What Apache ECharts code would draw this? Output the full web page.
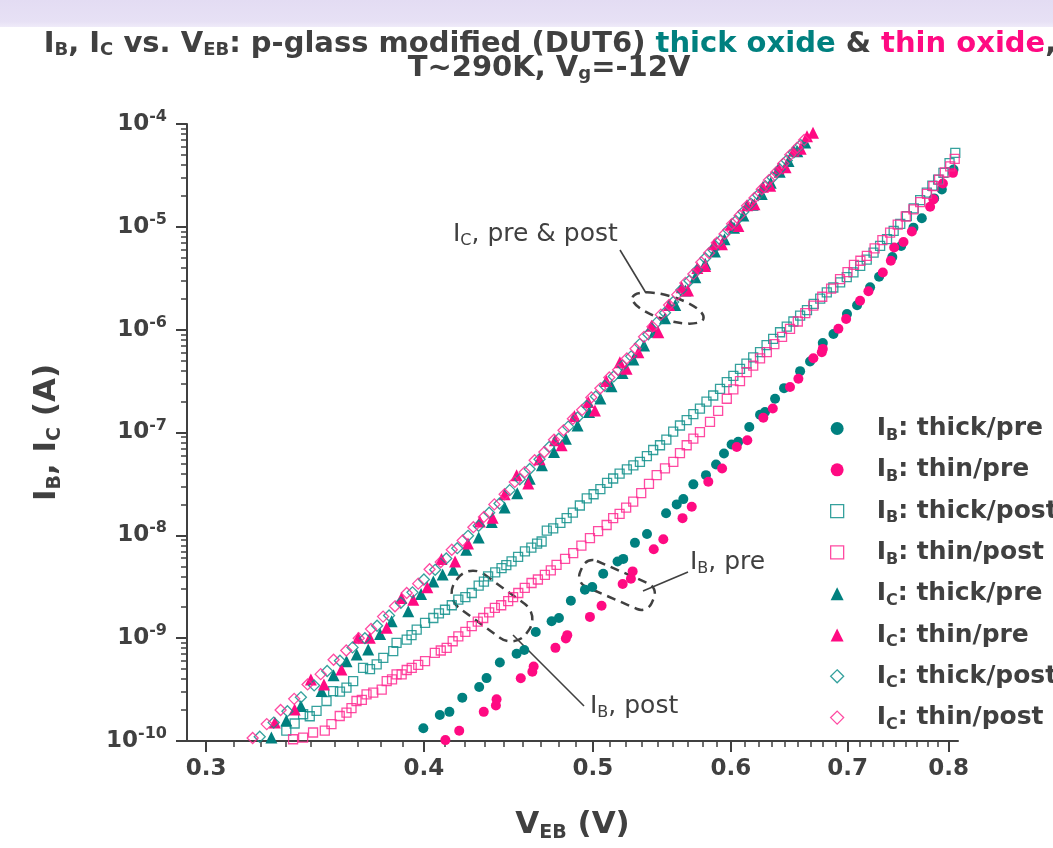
<!DOCTYPE html>
<html><head><meta charset="utf-8">
<script src="https://cdn.jsdelivr.net/npm/echarts@6/dist/echarts.min.js"></script>
<style>html,body{margin:0;padding:0;background:#fff;}#c{width:1053px;height:848px;}</style>
</head><body><div id="c"></div>
<script>
// ---- axis definitions ----
const X_TICKS = [0.3, 0.4, 0.5, 0.6, 0.7, 0.8];          // V_EB (V), log axis
const X_RANGE = [0.2925, 0.81];
const Y_TICK_EXPONENTS = [-10, -9, -8, -7, -6, -5, -4]; // I (A) = 10^e, log axis

// ---- data: [V_EB (V), current (A)] ----
const IB_THICK_PRE = [[0.3997,1.33e-10],[0.4085,1.79e-10],[0.4137,1.92e-10],[0.4208,2.64e-10],[0.4303,3.35e-10],[0.4345,4.09e-10],[0.4422,5.81e-10],[0.4521,7.05e-10],[0.4567,7.67e-10],[0.4637,1.15e-9],[0.4735,1.46e-9],[0.4781,1.57e-9],[0.4857,2.31e-9],[0.4948,2.96e-9],[0.4996,3.14e-9],[0.5069,4.23e-9],[0.5166,5.57e-9],[0.5205,5.90e-9],[0.5286,8.45e-9],[0.5371,1.03e-8],[0.5508,1.64e-8],[0.5586,2.00e-8],[0.5635,2.25e-8],[0.5710,3.13e-8],[0.5806,3.85e-8],[0.5884,4.89e-8],[0.5946,6.25e-8],[0.6006,7.64e-8],[0.6059,8.11e-8],[0.6148,1.13e-7],[0.6236,1.49e-7],[0.6277,1.58e-7],[0.6361,2.13e-7],[0.6437,2.70e-7],[0.6575,3.95e-7],[0.6662,4.90e-7],[0.6775,7.43e-7],[0.6871,9.08e-7],[0.6995,1.42e-6],[0.7089,1.73e-6],[0.7212,2.58e-6],[0.7298,3.27e-6],[0.7427,5.09e-6],[0.7514,6.52e-6],[0.7637,9.82e-6],[0.7722,1.21e-5],[0.7849,1.89e-5],[0.7929,2.31e-5],[0.8052,3.61e-5]];
const IB_THIN_PRE = [[0.4115,1.02e-10],[0.4191,1.26e-10],[0.4329,1.92e-10],[0.4399,2.21e-10],[0.4403,2.54e-10],[0.4546,4.08e-10],[0.4616,4.71e-10],[0.4624,5.30e-10],[0.4759,8.05e-10],[0.4825,9.91e-10],[0.4834,1.07e-9],[0.4981,1.61e-9],[0.5058,2.07e-9],[0.5201,3.36e-9],[0.5258,3.78e-9],[0.5270,4.46e-9],[0.5419,7.33e-9],[0.5488,9.16e-9],[0.5629,1.47e-8],[0.5698,1.90e-8],[0.5824,3.32e-8],[0.5931,4.47e-8],[0.6047,7.24e-8],[0.6132,8.40e-8],[0.6263,1.39e-7],[0.6342,1.71e-7],[0.6488,2.77e-7],[0.6560,3.33e-7],[0.6691,5.28e-7],[0.6766,6.04e-7],[0.6775,6.50e-7],[0.6916,1.02e-6],[0.6987,1.27e-6],[0.7117,1.91e-6],[0.7196,2.36e-6],[0.7334,3.60e-6],[0.7412,4.67e-6],[0.7445,6.30e-6],[0.7537,7.13e-6],[0.7621,9.00e-6],[0.7807,1.57e-5],[0.7841,1.85e-5],[0.7940,2.64e-5],[0.8046,3.35e-5]];
const IB_THICK_POST = [[0.3335,1.26e-10],[0.3372,1.48e-10],[0.3410,1.82e-10],[0.3440,1.74e-10],[0.3471,1.96e-10],[0.3517,2.45e-10],[0.3548,3.06e-10],[0.3580,3.02e-10],[0.3611,3.30e-10],[0.3643,3.83e-10],[0.3691,5.15e-10],[0.3725,5.01e-10],[0.3758,5.55e-10],[0.3791,6.44e-10],[0.3841,7.48e-10],[0.3858,8.99e-10],[0.3910,9.68e-10],[0.3935,1.07e-9],[0.3962,1.21e-9],[0.4006,1.41e-9],[0.4050,1.57e-9],[0.4080,1.74e-9],[0.4113,1.89e-9],[0.4150,2.09e-9],[0.4186,2.37e-9],[0.4225,2.51e-9],[0.4261,2.75e-9],[0.4300,3.24e-9],[0.4330,3.55e-9],[0.4354,3.99e-9],[0.4395,4.37e-9],[0.4432,4.80e-9],[0.4460,5.13e-9],[0.4491,5.57e-9],[0.4530,6.17e-9],[0.4571,6.97e-9],[0.4610,7.59e-9],[0.4645,8.32e-9],[0.4673,8.71e-9],[0.4705,1.11e-8],[0.4745,1.17e-8],[0.4790,1.32e-8],[0.4830,1.47e-8],[0.4870,1.66e-8],[0.4915,1.95e-8],[0.4960,2.29e-8],[0.5005,2.51e-8],[0.5050,2.82e-8],[0.5095,3.24e-8],[0.5136,3.57e-8],[0.5180,3.98e-8],[0.5230,4.37e-8],[0.5275,4.79e-8],[0.5321,5.19e-8],[0.5370,5.89e-8],[0.5415,6.76e-8],[0.5464,7.52e-8],[0.5510,8.51e-8],[0.5560,1.02e-7],[0.5610,1.17e-7],[0.5660,1.32e-7],[0.5710,1.51e-7],[0.5760,1.71e-7],[0.5810,2.00e-7],[0.5862,2.29e-7],[0.5915,2.66e-7],[0.5968,3.09e-7],[0.6020,3.55e-7],[0.6073,4.16e-7],[0.6125,4.68e-7],[0.6180,5.37e-7],[0.6236,6.04e-7],[0.6290,7.08e-7],[0.6345,8.13e-7],[0.6403,9.44e-7],[0.6460,1.07e-6],[0.6517,1.20e-6],[0.6575,1.37e-6],[0.6635,1.55e-6],[0.6695,1.78e-6],[0.6752,2.00e-6],[0.6811,2.31e-6],[0.6870,2.57e-6],[0.6932,2.88e-6],[0.6993,3.24e-6],[0.7055,3.60e-6],[0.7118,4.17e-6],[0.7180,4.79e-6],[0.7245,5.62e-6],[0.7308,6.52e-6],[0.7375,7.59e-6],[0.7440,9.12e-6],[0.7505,1.07e-5],[0.7571,1.27e-5],[0.7640,1.51e-5],[0.7705,1.82e-5],[0.7773,2.15e-5],[0.7830,2.51e-5],[0.7890,2.88e-5],[0.7946,3.35e-5],[0.8010,4.17e-5],[0.8071,5.24e-5]];
const IB_THIN_POST = [[0.3365,1.04e-10],[0.3410,1.08e-10],[0.3455,1.21e-10],[0.3509,1.26e-10],[0.3540,1.46e-10],[0.3579,1.75e-10],[0.3611,1.89e-10],[0.3635,2.09e-10],[0.3659,2.45e-10],[0.3685,2.51e-10],[0.3708,2.84e-10],[0.3741,2.95e-10],[0.3783,3.16e-10],[0.3808,3.83e-10],[0.3835,3.98e-10],[0.3858,4.44e-10],[0.3884,4.44e-10],[0.3910,4.90e-10],[0.3936,5.15e-10],[0.3970,5.50e-10],[0.4006,5.98e-10],[0.4058,7.21e-10],[0.4090,7.59e-10],[0.4122,8.05e-10],[0.4155,9.33e-10],[0.4186,1.04e-9],[0.4225,1.15e-9],[0.4261,1.31e-9],[0.4295,1.45e-9],[0.4326,1.57e-9],[0.4360,1.78e-9],[0.4393,1.97e-9],[0.4430,2.09e-9],[0.4471,2.29e-9],[0.4500,2.51e-9],[0.4531,2.75e-9],[0.4570,3.09e-9],[0.4611,3.44e-9],[0.4650,3.72e-9],[0.4693,4.13e-9],[0.4730,4.57e-9],[0.4766,5.16e-9],[0.4820,5.89e-9],[0.4872,6.71e-9],[0.4925,7.94e-9],[0.4981,9.38e-9],[0.5035,1.10e-8],[0.5092,1.26e-8],[0.5136,1.47e-8],[0.5180,1.62e-8],[0.5225,1.86e-8],[0.5274,2.13e-8],[0.5330,2.57e-8],[0.5385,3.16e-8],[0.5440,3.85e-8],[0.5500,4.47e-8],[0.5561,5.19e-8],[0.5610,6.31e-8],[0.5660,7.52e-8],[0.5710,8.71e-8],[0.5760,1.01e-7],[0.5837,1.27e-7],[0.5900,1.62e-7],[0.5968,2.13e-7],[0.6020,2.63e-7],[0.6073,3.16e-7],[0.6127,3.86e-7],[0.6180,4.47e-7],[0.6236,5.25e-7],[0.6292,6.04e-7],[0.6355,7.24e-7],[0.6420,8.51e-7],[0.6488,1.02e-6],[0.6555,1.20e-6],[0.6620,1.45e-6],[0.6691,1.71e-6],[0.6770,2.09e-6],[0.6850,2.51e-6],[0.6931,3.10e-6],[0.7000,3.63e-6],[0.7060,4.27e-6],[0.7120,4.68e-6],[0.7181,5.21e-6],[0.7255,6.17e-6],[0.7330,7.41e-6],[0.7405,8.79e-6],[0.7480,1.05e-5],[0.7560,1.26e-5],[0.7637,1.48e-5],[0.7705,1.74e-5],[0.7775,2.09e-5],[0.7841,2.49e-5],[0.7900,2.88e-5],[0.7960,3.39e-5],[0.8017,3.88e-5],[0.8065,4.57e-5]];
const IC_THICK_PRE = [[0.3270,1.08e-10],[0.3335,1.58e-10],[0.3400,2.19e-10],[0.3494,3.06e-10],[0.3550,4.37e-10],[0.3611,5.98e-10],[0.3660,6.92e-10],[0.3716,7.76e-10],[0.3775,1.10e-9],[0.3833,1.46e-9],[0.3918,1.83e-9],[0.3985,2.69e-9],[0.4050,3.56e-9],[0.4100,4.17e-9],[0.4158,4.62e-9],[0.4230,7.24e-9],[0.4300,9.55e-9],[0.4375,1.35e-8],[0.4450,1.86e-8],[0.4525,2.57e-8],[0.4600,3.55e-8],[0.4675,4.79e-8],[0.4750,6.46e-8],[0.4825,8.71e-8],[0.4900,1.17e-7],[0.4975,1.58e-7],[0.5050,2.14e-7],[0.5125,2.82e-7],[0.5200,3.80e-7],[0.5275,5.13e-7],[0.5350,7.00e-7],[0.5425,9.55e-7],[0.5500,1.29e-6],[0.5575,1.74e-6],[0.5650,2.40e-6],[0.5725,3.24e-6],[0.5800,4.37e-6],[0.5875,5.75e-6],[0.5950,7.59e-6],[0.6025,9.77e-6],[0.6100,1.29e-5],[0.6175,1.64e-5],[0.6250,2.09e-5],[0.6325,2.69e-5],[0.6400,3.43e-5],[0.6475,4.37e-5],[0.6550,5.43e-5],[0.6620,6.61e-5]];
const IC_THIN_PRE = [[0.3285,1.51e-10],[0.3372,2.03e-10],[0.3445,3.97e-10],[0.3505,3.55e-10],[0.3587,4.97e-10],[0.3667,1.01e-9],[0.3724,1.01e-9],[0.3808,1.26e-9],[0.3883,2.46e-9],[0.3944,2.37e-9],[0.4018,3.12e-9],[0.4094,5.90e-9],[0.4168,5.57e-9],[0.4240,8.32e-9],[0.4307,1.36e-8],[0.4380,1.48e-8],[0.4450,2.51e-8],[0.4521,3.85e-8],[0.4591,3.20e-8],[0.4660,5.50e-8],[0.4756,8.41e-8],[0.4798,7.52e-8],[0.4880,1.45e-7],[0.4970,1.98e-7],[0.5014,1.64e-7],[0.5090,3.16e-7],[0.5182,4.83e-7],[0.5228,4.16e-7],[0.5310,6.03e-7],[0.5403,1.09e-6],[0.5452,9.44e-7],[0.5530,1.74e-6],[0.5623,2.58e-6],[0.5670,2.40e-6],[0.5740,3.98e-6],[0.5800,4.17e-6],[0.5870,6.76e-6],[0.5930,6.76e-6],[0.6000,1.05e-5],[0.6060,1.02e-5],[0.6130,1.62e-5],[0.6190,1.66e-5],[0.6260,2.45e-5],[0.6320,2.51e-5],[0.6390,3.72e-5],[0.6450,3.80e-5],[0.6520,5.50e-5],[0.6580,5.75e-5],[0.6635,7.59e-5],[0.6688,8.24e-5]];
const IC_THICK_POST = [[0.322,1.10e-10],[0.328,1.51e-10],[0.334,1.95e-10],[0.340,2.66e-10],[0.346,3.47e-10],[0.352,4.79e-10],[0.358,6.03e-10],[0.364,8.13e-10],[0.370,1.00e-9],[0.376,1.32e-9],[0.382,1.66e-9],[0.388,2.21e-9],[0.394,2.79e-9],[0.400,3.72e-9],[0.406,4.62e-9],[0.412,5.96e-9],[0.418,7.50e-9],[0.424,9.89e-9],[0.430,1.24e-8],[0.436,1.66e-8],[0.442,2.04e-8],[0.448,2.75e-8],[0.454,3.51e-8],[0.460,4.42e-8],[0.466,5.50e-8],[0.472,7.24e-8],[0.478,8.71e-8],[0.484,1.14e-7],[0.490,1.40e-7],[0.496,1.82e-7],[0.502,2.24e-7],[0.508,2.85e-7],[0.514,3.51e-7],[0.520,4.47e-7],[0.526,5.50e-7],[0.532,7.24e-7],[0.538,9.02e-7],[0.544,1.17e-6],[0.550,1.46e-6],[0.556,1.86e-6],[0.562,2.43e-6],[0.568,2.99e-6],[0.574,3.80e-6],[0.580,4.95e-6],[0.586,6.03e-6],[0.592,7.41e-6],[0.598,9.33e-6],[0.604,1.14e-5],[0.610,1.40e-5],[0.616,1.68e-5],[0.622,2.04e-5],[0.628,2.48e-5],[0.634,3.02e-5],[0.640,3.63e-5],[0.646,4.42e-5],[0.652,5.31e-5],[0.658,6.24e-5]];
const IC_THIN_POST = [[0.319,1.07e-10],[0.325,1.46e-10],[0.331,2.00e-10],[0.337,2.57e-10],[0.343,3.55e-10],[0.349,4.47e-10],[0.355,6.17e-10],[0.361,7.59e-10],[0.367,1.00e-9],[0.373,1.23e-9],[0.379,1.62e-9],[0.385,2.04e-9],[0.391,2.75e-9],[0.397,3.39e-9],[0.403,4.68e-9],[0.409,5.50e-9],[0.415,7.24e-9],[0.421,8.91e-9],[0.427,1.20e-8],[0.433,1.51e-8],[0.439,2.00e-8],[0.445,2.51e-8],[0.451,3.31e-8],[0.457,4.12e-8],[0.463,5.37e-8],[0.469,6.46e-8],[0.475,8.51e-8],[0.481,1.05e-7],[0.487,1.36e-7],[0.493,1.66e-7],[0.499,2.19e-7],[0.505,2.69e-7],[0.511,3.43e-7],[0.517,4.07e-7],[0.523,5.25e-7],[0.529,6.53e-7],[0.535,8.51e-7],[0.541,1.07e-6],[0.547,1.40e-6],[0.553,1.74e-6],[0.559,2.19e-6],[0.565,2.85e-6],[0.571,3.47e-6],[0.577,4.52e-6],[0.583,5.56e-6],[0.589,7.00e-6],[0.595,8.51e-6],[0.601,1.07e-5],[0.607,1.29e-5],[0.613,1.60e-5],[0.619,1.91e-5],[0.625,2.32e-5],[0.631,2.85e-5],[0.637,3.39e-5],[0.643,4.12e-5],[0.649,5.01e-5],[0.655,5.89e-5],[0.661,7.00e-5]];

// ---- styling ----
const TEAL = '#00807f', PINK = '#ff0a82', INK = '#404040', FONT = 'DejaVu Sans';
const lg = v => Math.log10(v);
const toXY = arr => arr.map(p => [lg(p[0]), lg(p[1])]);

const xMajor = X_TICKS.map(lg);
const xMinor = [];
X_TICKS.forEach(t => { for (let k = 1; k < 9; k++) { const v = t + k * 0.1 / 9; if (v < X_RANGE[1]) xMinor.push(lg(v)); } });
const yMinor = [];
Y_TICK_EXPONENTS.slice(0, -1).forEach(e => { for (let k = 2; k <= 9; k++) yMinor.push(e + lg(k)); });

const SERIES_DEF = [
  {name: 'IB: thick/pre',  data: IB_THICK_PRE,  symbol: 'circle',   size: 10, color: TEAL, hollow: false, sub: 'B', label: 'thick/pre'},
  {name: 'IB: thin/pre',   data: IB_THIN_PRE,   symbol: 'circle',   size: 10, color: PINK, hollow: false, sub: 'B', label: 'thin/pre'},
  {name: 'IB: thick/post', data: IB_THICK_POST, symbol: 'rect',     size: 9,  color: '#12908c', hollow: true, sub: 'B', label: 'thick/post'},
  {name: 'IB: thin/post',  data: IB_THIN_POST,  symbol: 'rect',     size: 9,  color: '#ff2a92', hollow: true, sub: 'B', label: 'thin/post'},
  {name: 'IC: thick/pre',  data: IC_THICK_PRE,  symbol: 'triangle', size: 12, color: TEAL, hollow: false, sub: 'C', label: 'thick/pre'},
  {name: 'IC: thin/pre',   data: IC_THIN_PRE,   symbol: 'triangle', size: 12, color: PINK, hollow: false, sub: 'C', label: 'thin/pre'},
  {name: 'IC: thick/post', data: IC_THICK_POST, symbol: 'diamond',  size: 11, color: '#12908c', hollow: true, sub: 'C', label: 'thick/post'},
  {name: 'IC: thin/post',  data: IC_THIN_POST,  symbol: 'diamond',  size: 11, color: '#ff2a92', hollow: true, sub: 'C', label: 'thin/post'}
];
const styleOf = d => d.hollow
  ? {color: 'rgba(255,255,255,0)', borderColor: d.color, borderWidth: 1.3, opacity: 0.85}
  : {color: d.color, borderWidth: 0, opacity: 1};

const series = SERIES_DEF.map((d, i) => ({
  name: d.name, type: 'scatter', data: toXY(d.data), symbol: d.symbol, symbolSize: d.size,
  itemStyle: styleOf(d), z: 2 + i, silent: true, emphasis: {disabled: true}, clip: true
}));

const legendRich = {};
SERIES_DEF.forEach(d => { legendRich[d.name] = `{a|I}{s|${d.sub}}{m|: ${d.label}}`; });

const axisLineStyle = {color: INK, width: 2};
// component text styles (ECharts uses "color")
const bold = (size, extra) => Object.assign({fontFamily: FONT, fontWeight: 'bold', fontSize: size, color: INK}, extra || {});
// graphic text styles (zrender uses "fill")
const gb = (size, extra) => Object.assign({fontFamily: FONT, fontWeight: 'bold', fontSize: size, fill: INK}, extra || {});
const gr = (size, extra) => Object.assign({fontFamily: FONT, fontWeight: 'normal', fontSize: size, fill: INK}, extra || {});

const option = {
  animation: false,
  backgroundColor: '#ffffff',
  grid: {left: 187, right: 95, top: 124, bottom: 104, containLabel: false},
  xAxis: [
    {type: 'value', min: lg(X_RANGE[0]), max: lg(X_RANGE[1]), position: 'bottom',
     axisLine: {show: true, onZero: false, lineStyle: axisLineStyle},
     axisTick: {show: true, customValues: xMajor, length: 11, lineStyle: {color: INK, width: 2}},
     axisLabel: {show: true, customValues: xMajor, margin: 17, formatter: v => Math.pow(10, v).toFixed(1), ...bold(23)},
     splitLine: {show: false},
     name: '{m|V}{s|EB}{m| (V)}', nameLocation: 'middle', nameGap: 66,
     nameTextStyle: {rich: {m: bold(31, {lineHeight: 36}), s: bold(19, {lineHeight: 16, verticalAlign: 'bottom'})}}},
    {type: 'value', min: lg(X_RANGE[0]), max: lg(X_RANGE[1]), position: 'bottom',
     axisLine: {show: false}, axisLabel: {show: false}, splitLine: {show: false},
     axisTick: {show: true, customValues: xMinor, length: 6, lineStyle: {color: INK, width: 1.5}}}
  ],
  yAxis: [
    {type: 'value', min: -10, max: -4, position: 'left',
     axisLine: {show: true, onZero: false, lineStyle: axisLineStyle},
     axisTick: {show: true, customValues: Y_TICK_EXPONENTS, length: 11, lineStyle: {color: INK, width: 2}},
     axisLabel: {show: true, customValues: Y_TICK_EXPONENTS, margin: 20,
       formatter: v => `{n|10}{s|${Math.round(v)}}`,
       rich: {n: bold(23, {lineHeight: 30}), s: bold(16, {lineHeight: 14, verticalAlign: 'top'})}},
     splitLine: {show: false},
     name: '{m|I}{s|B}{m|, I}{s|C}{m| (A)}', nameLocation: 'middle', nameGap: 122,
     nameTextStyle: {rich: {m: bold(31, {lineHeight: 36}), s: bold(19, {lineHeight: 16, verticalAlign: 'bottom'})}}},
    {type: 'value', min: -10, max: -4, position: 'left',
     axisLine: {show: false}, axisLabel: {show: false}, splitLine: {show: false},
     axisTick: {show: true, customValues: yMinor, length: 6, lineStyle: {color: INK, width: 1.5}}}
  ],
  legend: {
    orient: 'vertical', left: 830, top: 416, padding: 0, itemGap: 13.8,
    itemWidth: 13, itemHeight: 13, selectedMode: false, symbolKeepAspect: true,
    data: SERIES_DEF.map(d => ({name: d.name, icon: d.symbol, itemStyle: styleOf(d)})),
    formatter: name => legendRich[name],
    textStyle: {...bold(25), rich: {
      a: bold(25, {lineHeight: 30, padding: [0, 0, 0, 28]}),
      m: bold(25, {lineHeight: 30}),
      s: bold(16, {lineHeight: 14, verticalAlign: 'bottom'})}}
  },
  series: series,
  graphic: {elements: [
    {type: 'rect', shape: {x: 0, y: 0, width: 1053, height: 27}, silent: true, z: -1,
     style: {fill: new echarts.graphic.LinearGradient(0, 0, 0, 1, [{offset: 0, color: '#e3dcf3'}, {offset: 0.8, color: '#e7e1f5'}, {offset: 1, color: '#efebf9'}])}},
    {type: 'text', x: 550, y: 44, silent: true,
     style: {text: '{b|I}{s|B}{b|, I}{s|C}{b| vs. V}{s|EB}{b|: p-glass modified (DUT6) }{t|thick oxide}{b| & }{p|thin oxide}{b|,}',
       align: 'center', verticalAlign: 'middle',
       rich: {b: gb(29, {lineHeight: 30}), s: gb(18, {lineHeight: 14, verticalAlign: 'bottom'}),
              t: gb(29, {lineHeight: 30, fill: TEAL}), p: gb(29, {lineHeight: 30, fill: PINK})}}},
    {type: 'text', x: 549, y: 68, silent: true,
     style: {text: '{b|T~290K, V}{s|g}{b|=-12V}', align: 'center', verticalAlign: 'middle',
       rich: {b: gb(29, {lineHeight: 30}), s: gb(18, {lineHeight: 14, verticalAlign: 'bottom'})}}},
    // annotations
    {type: 'text', x: 453, y: 234, silent: true,
     style: {text: '{r|I}{s|C}{r|, pre & post}', align: 'left', verticalAlign: 'middle',
       rich: {r: gr(25, {lineHeight: 30}), s: gr(16, {lineHeight: 14, verticalAlign: 'bottom'})}}},
    {type: 'line', shape: {x1: 620, y1: 250, x2: 646, y2: 293}, silent: true, style: {stroke: INK, lineWidth: 1.6}},
    {type: 'ellipse', shape: {cx: 0, cy: 0, rx: 37, ry: 12}, x: 668, y: 308, rotation: -0.29, silent: true,
     style: {fill: 'none', stroke: INK, lineWidth: 2.5, lineDash: [9, 6]}},
    {type: 'text', x: 690, y: 562, silent: true,
     style: {text: '{r|I}{s|B}{r|, pre}', align: 'left', verticalAlign: 'middle',
       rich: {r: gr(25, {lineHeight: 30}), s: gr(16, {lineHeight: 14, verticalAlign: 'bottom'})}}},
    {type: 'line', shape: {x1: 643, y1: 591, x2: 688, y2: 572}, silent: true, style: {stroke: INK, lineWidth: 1.6}},
    {type: 'rect', shape: {x: -39, y: -14, width: 78, height: 28, r: 11}, x: 617, y: 585, rotation: -0.41, silent: true,
     style: {fill: 'none', stroke: INK, lineWidth: 2.5, lineDash: [9, 6]}},
    {type: 'text', x: 590, y: 706, silent: true,
     style: {text: '{r|I}{s|B}{r|, post}', align: 'left', verticalAlign: 'middle',
       rich: {r: gr(25, {lineHeight: 30}), s: gr(16, {lineHeight: 14, verticalAlign: 'bottom'})}}},
    {type: 'line', shape: {x1: 584, y1: 706, x2: 513, y2: 635}, silent: true, style: {stroke: INK, lineWidth: 1.6}},
    {type: 'rect', shape: {x: -44, y: -21, width: 88, height: 42, r: 19}, x: 492, y: 606, rotation: -0.63, silent: true,
     style: {fill: 'none', stroke: INK, lineWidth: 2.5, lineDash: [9, 6]}}
  ]}
};

const chart = echarts.init(document.getElementById('c'), null, {renderer: 'canvas', width: 1053, height: 848});
chart.setOption(option);
</script>
</body></html>
